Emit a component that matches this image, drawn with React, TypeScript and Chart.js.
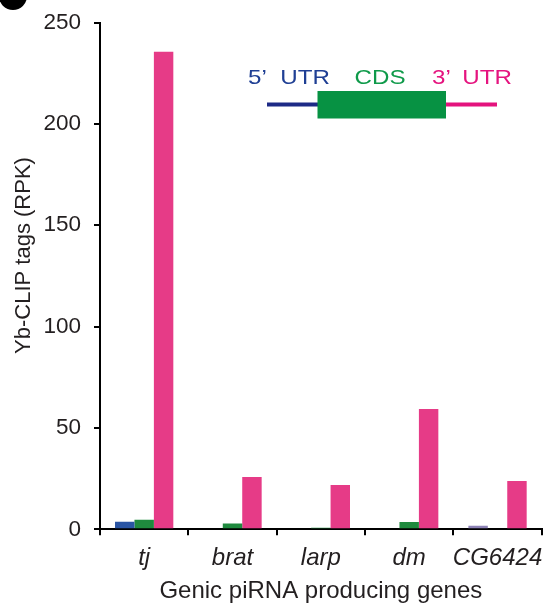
import React, { useEffect, useRef } from "react";
import { Chart, registerables } from "chart.js";

Chart.register(...registerables);

const categories = ["tj", "brat", "larp", "dm", "CG6424"];
const utr5Values = [3.7, 0, 0, 0, 1.8];
const cdsValues = [4.7, 2.8, 0.8, 3.6, 0];
const utr3Values = [235.6, 25.8, 21.9, 59.4, 23.8];
const yTicks = [0, 50, 100, 150, 200, 250];

const utr5Colors = ["#2a55a4", "#2a55a4", "#2a55a4", "#2a55a4", "#8d82b6"];
const cdsColor = "#1f8a3e";
const utr3Color = "#e63b87";
const textColor = "#231f20";
const FONT = '"Liberation Sans", Arial, Helvetica, sans-serif';

function wideText(ctx: any, str: string, x: number, y: number, align: string) {
  ctx.save();
  ctx.translate(x, y);
  ctx.scale(1.15, 1);
  ctx.textAlign = align;
  ctx.fillText(str, 0, 0);
  ctx.restore();
}

const overlayPlugin = {
  id: "overlay",
  afterDraw(chart: any) {
    const ctx = chart.ctx;
    ctx.save();
    // partial panel marker at top-left
    ctx.fillStyle = "#000";
    ctx.beginPath();
    ctx.arc(13, -4, 14, 0, Math.PI * 2);
    ctx.fill();

    // y axis title
    ctx.save();
    ctx.translate(23.5, 255.5);
    ctx.rotate(-Math.PI / 2);
    ctx.font = `22px ${FONT}`;
    ctx.fillStyle = textColor;
    ctx.textAlign = "center";
    ctx.textBaseline = "middle";
    ctx.fillText("Yb-CLIP tags (RPK)", 0, 0);
    ctx.restore();

    // gene model legend
    ctx.font = `21px ${FONT}`;
    ctx.textBaseline = "alphabetic";
    ctx.fillStyle = "#1f3f94";
    wideText(ctx, "5\u2019", 248, 84, "left");
    wideText(ctx, "UTR", 330, 84, "right");
    ctx.fillStyle = "#0f9a4a";
    wideText(ctx, "CDS", 380, 84, "center");
    ctx.fillStyle = "#e5147f";
    wideText(ctx, "3\u2019", 432, 84, "left");
    wideText(ctx, "UTR", 512, 84, "right");

    ctx.lineWidth = 4;
    ctx.strokeStyle = "#1d2a86";
    ctx.beginPath();
    ctx.moveTo(267, 104.5);
    ctx.lineTo(318, 104.5);
    ctx.stroke();
    ctx.strokeStyle = "#e4137d";
    ctx.beginPath();
    ctx.moveTo(445, 104.5);
    ctx.lineTo(497, 104.5);
    ctx.stroke();
    ctx.fillStyle = "#079243";
    ctx.fillRect(317.5, 91, 128.5, 27.5);
    ctx.restore();
  },
};

export default function App() {
  const ref = useRef<HTMLCanvasElement | null>(null);
  useEffect(() => {
    if (!ref.current) return;
    const chart = new Chart(ref.current, {
      type: "bar",
      data: {
        labels: categories,
        datasets: [
          { label: "5' UTR", data: utr5Values, backgroundColor: utr5Colors },
          { label: "CDS", data: cdsValues, backgroundColor: cdsColor },
          { label: "3' UTR", data: utr3Values, backgroundColor: utr3Color },
        ],
      },
      options: {
        responsive: false,
        animation: false,
        layout: { padding: { top: 22.6, right: 2.3, left: 0, bottom: 0 } },
        datasets: { bar: { categoryPercentage: 0.66, barPercentage: 1.0 } },
        plugins: { legend: { display: false }, tooltip: { enabled: false } },
        scales: {
          x: {
            offset: true,
            grid: {
              display: true,
              offset: true,
              drawOnChartArea: false,
              drawTicks: true,
              tickLength: 6,
              color: "#000",
              lineWidth: 2,
            },
            border: { display: true, color: "#000", width: 2 },
            ticks: {
              color: textColor,
              padding: 8.5,
              autoSkip: false,
              maxRotation: 0,
              minRotation: 0,
              font: { family: FONT, size: 24, style: "italic" },
            },
            title: {
              display: true,
              text: "Genic piRNA producing genes",
              color: textColor,
              font: { family: FONT, size: 24 },
              padding: { top: 0, bottom: 0 },
            },
            afterFit: (s: any) => {
              s.height = 76.7;
              s.paddingLeft = 0;
              s.paddingRight = 0;
            },
          },
          y: {
            min: 0,
            max: 250,
            afterBuildTicks: (s: any) => {
              s.ticks = yTicks.map((v) => ({ value: v }));
            },
            grid: {
              display: true,
              drawOnChartArea: false,
              drawTicks: true,
              tickLength: 6,
              color: "#000",
              lineWidth: 2,
            },
            border: { display: true, color: "#000", width: 2 },
            ticks: {
              color: textColor,
              padding: 13,
              font: { family: FONT, size: 22.5 },
            },
            afterFit: (s: any) => {
              s.width = 100;
              s.paddingTop = 0;
              s.paddingBottom = 0;
            },
          },
        },
      },
      plugins: [overlayPlugin],
    });
    return () => chart.destroy();
  }, []);
  return (
    <div style={{ position: "fixed", left: 0, top: 0, width: 544, height: 606, background: "#fff" }}>
      <canvas ref={ref} width={544} height={606} style={{ display: "block" }} />
    </div>
  );
}
